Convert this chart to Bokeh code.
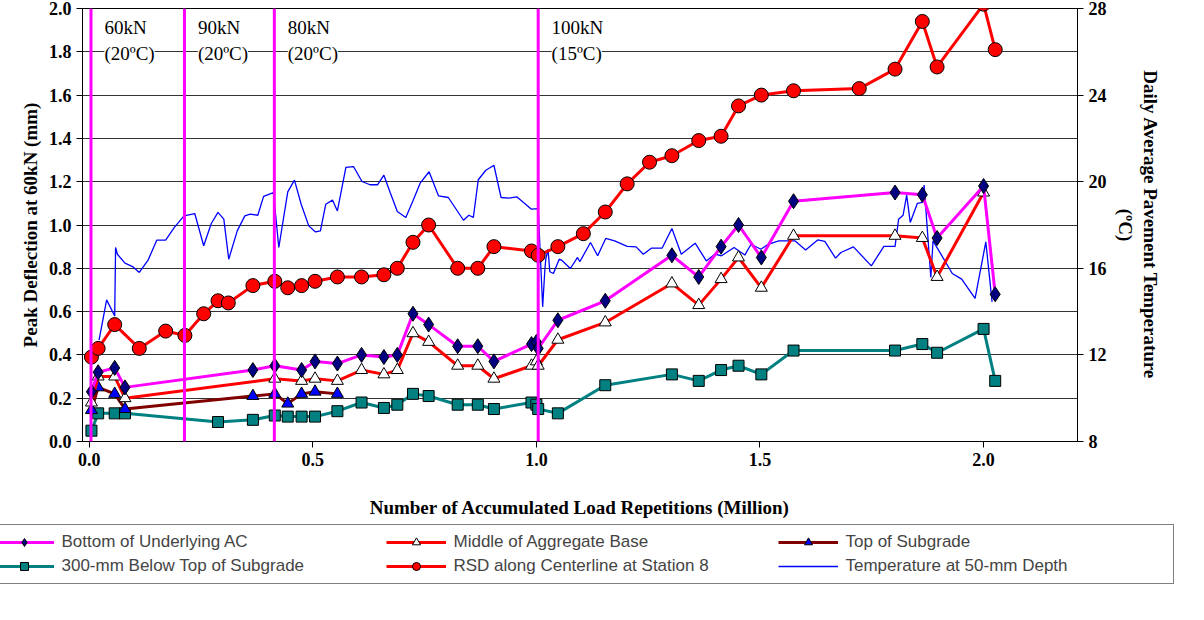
from bokeh.plotting import figure
from bokeh.layouts import column
from bokeh.models import Range1d, LinearAxis, Label, Legend, LegendItem, FixedTicker, NumeralTickFormatter, Span
from bokeh.embed import file_html
from bokeh.resources import INLINE

ac_x = [0.005,0.02,0.057,0.080,0.366,0.415,0.475,0.505,0.555,0.609,0.659,0.689,0.724,0.759,0.824,0.869,0.905,0.989,1.0,1.004,1.048,1.154,1.303,1.363,1.413,1.452,1.503,1.575,1.802,1.863,1.896,2.000,2.026]
ac_y = [0.23,0.32,0.34,0.25,0.33,0.35,0.33,0.37,0.36,0.40,0.39,0.40,0.59,0.54,0.44,0.44,0.37,0.45,0.46,0.43,0.56,0.65,0.86,0.76,0.90,1.00,0.85,1.11,1.15,1.14,0.94,1.18,0.68]
ab_x = [0.005,0.02,0.057,0.080,0.415,0.475,0.505,0.555,0.609,0.659,0.689,0.724,0.759,0.824,0.869,0.905,0.989,1.0,1.004,1.048,1.154,1.303,1.363,1.413,1.452,1.503,1.575,1.802,1.863,1.896,2.0]
ab_y = [0.18,0.30,0.30,0.20,0.29,0.28,0.29,0.28,0.33,0.31,0.33,0.50,0.46,0.35,0.35,0.29,0.35,0.37,0.35,0.47,0.55,0.73,0.63,0.75,0.85,0.71,0.95,0.95,0.94,0.76,1.15]
sg_x = [0.005,0.02,0.057,0.080,0.366,0.415,0.444,0.475,0.505,0.555]
sg_y = [0.145,0.25,0.22,0.15,0.21,0.22,0.175,0.22,0.23,0.22]
b3_x = [0.005,0.02,0.057,0.080,0.288,0.366,0.415,0.444,0.475,0.505,0.555,0.609,0.659,0.689,0.724,0.759,0.824,0.869,0.905,0.989,1.0,1.004,1.048,1.154,1.303,1.363,1.413,1.452,1.503,1.575,1.802,1.863,1.896,2.0,2.026]
b3_y = [0.05,0.13,0.13,0.13,0.09,0.10,0.12,0.115,0.115,0.115,0.14,0.18,0.155,0.17,0.22,0.21,0.17,0.17,0.15,0.18,0.17,0.15,0.13,0.26,0.31,0.28,0.33,0.35,0.31,0.42,0.42,0.45,0.41,0.52,0.28]
rsd_x = [0.005,0.02,0.057,0.112,0.171,0.214,0.256,0.288,0.311,0.366,0.415,0.444,0.475,0.505,0.555,0.609,0.659,0.689,0.724,0.759,0.824,0.869,0.905,0.989,1.004,1.048,1.105,1.154,1.203,1.253,1.303,1.363,1.413,1.452,1.503,1.575,1.722,1.802,1.863,1.896,2.0,2.026]
rsd_y = [0.39,0.43,0.54,0.43,0.51,0.49,0.59,0.65,0.64,0.72,0.74,0.71,0.72,0.74,0.76,0.76,0.77,0.80,0.92,1.00,0.80,0.80,0.90,0.88,0.86,0.90,0.96,1.06,1.19,1.29,1.32,1.39,1.41,1.55,1.60,1.62,1.63,1.72,1.94,1.73,2.02,1.81]
t_x = [0.022,0.039,0.057,0.059,0.063,0.080,0.097,0.112,0.132,0.151,0.171,0.190,0.212,0.236,0.256,0.273,0.288,0.301,0.312,0.331,0.348,0.360,0.377,0.390,0.412,0.424,0.444,0.459,0.474,0.491,0.506,0.517,0.529,0.544,0.555,0.574,0.591,0.610,0.628,0.645,0.659,0.673,0.689,0.708,0.724,0.740,0.760,0.781,0.803,0.837,0.849,0.859,0.870,0.887,0.905,0.921,0.939,0.956,0.989,1.004,1.014,1.019,1.021,1.026,1.030,1.038,1.051,1.056,1.076,1.092,1.097,1.121,1.137,1.155,1.175,1.203,1.223,1.239,1.257,1.281,1.303,1.324,1.355,1.380,1.399,1.414,1.442,1.466,1.480,1.502,1.518,1.542,1.578,1.602,1.629,1.645,1.669,1.681,1.709,1.749,1.777,1.802,1.810,1.820,1.828,1.836,1.852,1.863,1.867,1.882,1.887,1.930,1.951,1.981,2.005,2.019]
t_y = [12.68,14.54,13.80,16.96,16.65,16.24,16.08,15.81,16.39,17.30,17.30,17.88,18.42,18.53,17.04,18.07,18.58,18.27,16.42,17.73,18.42,18.50,18.45,19.32,19.50,16.96,19.53,20.07,18.96,17.96,17.68,17.73,18.96,19.15,18.65,20.66,20.70,20.01,19.86,19.86,20.30,19.50,18.62,18.35,19.12,19.93,20.46,19.35,19.27,18.22,18.45,18.35,20.09,20.53,20.76,19.27,19.24,19.30,18.73,18.76,14.22,15.96,16.42,16.88,15.84,15.76,16.42,16.38,15.99,16.50,16.30,17.19,16.58,17.38,17.27,17.01,16.99,16.65,16.93,16.93,17.84,16.65,17.16,16.34,16.65,16.58,16.96,16.61,17.11,16.88,17.11,17.27,17.27,16.85,17.31,17.24,16.47,16.73,16.99,16.11,17.01,17.01,18.27,18.45,19.38,18.12,19.00,19.04,19.84,15.58,17.27,15.76,15.50,14.61,17.22,14.45]
phase_x = [0.004, 0.213, 0.414, 1.004]
phase_load = ["60kN", "90kN", "80kN", "100kN"]
phase_temp = ["(20ºC)", "(20ºC)", "(20ºC)", "(15ºC)"]

F = "Liberation Serif"
p = figure(width=1188, height=522, output_backend="svg", toolbar_location=None,
           x_range=Range1d(-0.015, 2.21), y_range=Range1d(0, 2.0),
           min_border_left=82, min_border_right=111, min_border_top=8, min_border_bottom=81)
p.extra_y_ranges = {"temp": Range1d(8, 28)}
p.outline_line_color = "black"
p.xgrid.visible = False
p.ygrid.grid_line_color = "black"
p.ygrid.grid_line_alpha = 0.8
p.yaxis.ticker = FixedTicker(ticks=[i * 0.2 for i in range(11)])
p.yaxis.formatter = NumeralTickFormatter(format="0.0")
p.xaxis.ticker = FixedTicker(ticks=[0, 0.5, 1.0, 1.5, 2.0])
p.xaxis.formatter = NumeralTickFormatter(format="0.0")
ra = LinearAxis(y_range_name="temp", ticker=FixedTicker(ticks=[8, 12, 16, 20, 24, 28]),
                axis_label="Daily Average Pavement Temperature\n(ºC)")
p.add_layout(ra, "right")
p.xaxis.axis_label = "Number of Accumulated Load Repetitions (Million)"
p.yaxis[0].axis_label = "Peak Deflection at 60kN (mm)"
for ax in p.xaxis + p.yaxis:
    ax.major_label_text_font = F
    ax.major_label_text_font_style = "bold"
    ax.major_label_text_font_size = "18px"
    ax.axis_label_text_font = F
    ax.axis_label_text_font_style = "bold"
    ax.axis_label_text_font_size = "19px"
    ax.minor_tick_line_color = None
    ax.major_label_text_color = "black"
    ax.axis_label_text_color = "black"
    ax.axis_line_color = "black"
    ax.major_tick_out = 6
    ax.major_tick_in = 0
p.xaxis.axis_label_standoff = 28

for xv in phase_x:
    p.add_layout(Span(location=xv, dimension="height", line_color="#ff00ff", line_width=3))
for xv, a, b in zip(phase_x, phase_load, phase_temp):
    for txt, yv in [(a, 1.91), (b, 1.79)]:
        p.add_layout(Label(x=xv + 0.03, y=yv, text=txt, text_font=F, text_font_size="19px",
                           text_color="black", text_baseline="middle", level="overlay",
                           background_fill_color="white", background_fill_alpha=1.0))

p.line(t_x, t_y, y_range_name="temp", color="#0000ff", line_width=1.3)
p.line(b3_x, b3_y, color="#008080", line_width=3)
p.scatter(b3_x, b3_y, marker="square", size=11, fill_color="#008080", line_color="black")
p.line(sg_x, sg_y, color="#800000", line_width=3)
p.scatter(sg_x, sg_y, marker="triangle", size=12, fill_color="#0000ff", line_color="black")
p.line(ab_x, ab_y, color="#ff0000", line_width=3)
p.scatter(ab_x, ab_y, marker="triangle", size=12, fill_color="white", line_color="black")
p.line(ac_x, ac_y, color="#ff00ff", line_width=3)
p.scatter(ac_x, ac_y, marker="diamond", size=15, fill_color="#000080", line_color="black")
p.line(rsd_x, rsd_y, color="#ff0000", line_width=3)
p.scatter(rsd_x, rsd_y, marker="circle", size=14, fill_color="#ff0000", line_color="black")

# legend figure (legend drawn in its side panel; dummy glyphs lie outside its range)
q = figure(width=1188, height=70, output_backend="svg", toolbar_location=None,
           x_range=Range1d(0, 1), y_range=Range1d(0, 1),
           min_border_left=82, min_border_right=111, min_border_top=0, min_border_bottom=0)
q.axis.visible = False
q.grid.visible = False
q.outline_line_color = None
def entry(lc, marker=None, fc=None, lw=3):
    rs = [q.line([-5, -4], [-5, -5], color=lc, line_width=lw)]
    if marker:
        sz = 15 if marker == "diamond" else (14 if marker == "circle" else 12)
        rs.append(q.scatter([-5], [-5], marker=marker, size=sz, fill_color=fc, line_color="black"))
    return rs
items = [
    LegendItem(label="Bottom of Underlying AC", renderers=entry("#ff00ff", "diamond", "#000080")),
    LegendItem(label="Middle of Aggregate Base", renderers=entry("#ff0000", "triangle", "white")),
    LegendItem(label="Top of Subgrade", renderers=entry("#800000", "triangle", "#0000ff")),
    LegendItem(label="300-mm Below Top of Subgrade", renderers=entry("#008080", "square", "#008080")),
    LegendItem(label="RSD along Centerline at Station 8", renderers=entry("#ff0000", "circle", "#ff0000")),
    LegendItem(label="Temperature at 50-mm Depth", renderers=entry("#0000ff", lw=1.3)),
]
leg = Legend(items=items, ncols=3, nrows=2, orientation="horizontal", label_text_font="Liberation Sans",
             label_text_font_size="17px", glyph_width=60, glyph_height=20, label_height=20,
             spacing=4, padding=7, margin=2, label_standoff=8,
             border_line_color="black", label_width=320, location="center")
q.add_layout(leg, "above")

open("out.html", "w").write(file_html(column(p, q, spacing=0), INLINE))
